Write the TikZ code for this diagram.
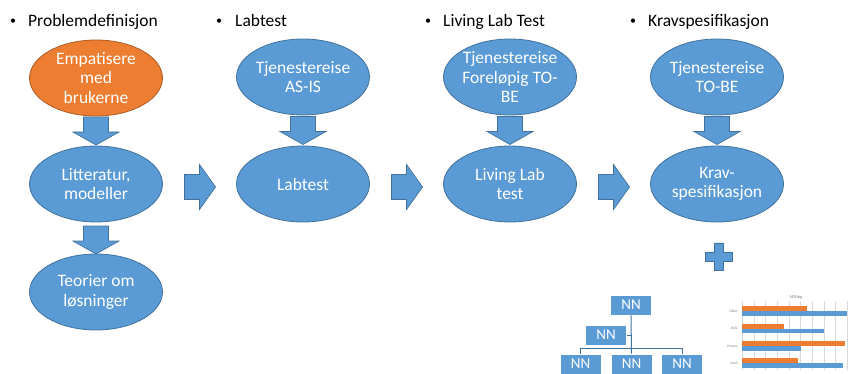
\documentclass[tikz,border=0pt]{standalone}
\usepackage{fontspec}
\setmainfont{Carlito}
\usetikzlibrary{shapes.geometric,calc}
\definecolor{fillblue}{HTML}{5B9BD5}
\definecolor{edgeblue}{HTML}{41719C}
\definecolor{fillorange}{HTML}{ED7D31}
\definecolor{edgeorange}{HTML}{AE5A21}
\definecolor{gridgray}{HTML}{D9D9D9}
\definecolor{labelgray}{HTML}{7F7F7F}
\begin{document}
\begin{tikzpicture}[x=1pt,y=-1pt,
  bubble/.style={ellipse, draw=edgeblue, line width=0.8pt, fill=fillblue,
    minimum width=133pt, minimum height=76pt, inner sep=0pt},
  hotbubble/.style={bubble, draw=edgeorange, fill=fillorange},
  bubbletext/.style={text=white, align=center, inner sep=0pt,
    font=\fontsize{17.5}{19.5}\selectfont},
  headtext/.style={text=black, inner sep=0pt, font=\fontsize{17.5}{20}\selectfont},
  headbullet/.style={text=black, inner sep=0pt, font=\fontsize{12}{12}\selectfont},
  blockarrow/.style={fill=fillblue, draw=edgeblue, line width=0.7pt, line join=miter},
  orgbox/.style={rectangle, fill=fillblue, draw=white, line width=0.7pt,
    minimum width=41pt, minimum height=20pt, inner sep=0pt, text=white,
    font=\fontsize{15}{15}\selectfont},
  orgline/.style={draw=edgeblue, line width=1pt},
  gridline/.style={draw=gridgray, line width=0.4pt},
  chartlabel/.style={text=labelgray, inner sep=0pt, font=\fontsize{3.5}{4}\selectfont},
  pics/downblock/.style={code={
    \path[blockarrow] (-12.5,-14) -- (12.5,-14) -- (12.5,1) -- (23,1) -- (0,14)
      -- (-23,1) -- (-12.5,1) -- cycle;}},
  pics/rightblock/.style={code={
    \path[blockarrow] (-15,-12.5) -- (0,-12.5) -- (0,-22.5) -- (16,0) -- (0,22.5)
      -- (0,12.5) -- (-15,12.5) -- cycle;}},
  pics/plusblock/.style={code={
    \path[blockarrow] (-4.5,-13.5) -- (4.5,-13.5) -- (4.5,-4.5) -- (13.5,-4.5)
      -- (13.5,4.5) -- (4.5,4.5) -- (4.5,13.5) -- (-4.5,13.5) -- (-4.5,4.5)
      -- (-13.5,4.5) -- (-13.5,-4.5) -- (-4.5,-4.5) -- cycle;}}
]
\useasboundingbox (0,0) rectangle (850,374);

% column headings
\node[headbullet, anchor=base] (b1) at (13,25) {•};
\node[headtext, anchor=base west] (h1) at (28,27) {Problemdefinisjon};
\node[headbullet, anchor=base] (b2) at (219,25) {•};
\node[headtext, anchor=base west] (h2) at (235,27) {Labtest};
\node[headbullet, anchor=base] (b3) at (428,25) {•};
\node[headtext, anchor=base west] (h3) at (443,27) {Living Lab Test};
\node[headbullet, anchor=base] (b4) at (633,25) {•};
\node[headtext, anchor=base west] (h4) at (648,27) {Kravspesifikasjon};

% column 1
\node[hotbubble] (e1) at (96,78) {};
\node[bubbletext] (t1) at (e1) {Empatisere\\med\\brukerne};
\node[bubble] (e2) at (96,184) {};
\node[bubbletext] (t2) at (e2) {Litteratur,\\modeller};
\node[bubble] (e3) at (96,292) {};
\node[bubbletext] (t3) at (e3) {Teorier om\\løsninger};

% column 2
\node[bubble] (e4) at (303,77) {};
\node[bubbletext] (t4) at (e4) {Tjenestereise\\AS-IS};
\node[bubble] (e5) at (303,184) {};
\node[bubbletext] (t5) at (e5) {Labtest};

% column 3
\node[bubble] (e6) at (510,77) {};
\node[bubbletext] (t6) at (e6) {Tjenestereise\\Foreløpig TO-\\BE};
\node[bubble] (e7) at (510,184) {};
\node[bubbletext] (t7) at (e7) {Living Lab\\test};

% column 4
\node[bubble] (e8) at (717,77) {};
\node[bubbletext] (t8) at (e8) {Tjenestereise\\TO-BE};
\node[bubble] (e9) at (717,184) {};
\node[bubbletext] (t9) at (e9) {Krav-\\spesifikasjon};

% block arrows down each column
\pic at ($(e1.south)!0.5!(e2.north)$) {downblock};
\pic at ($(e2.south)!0.5!(e3.north)+(0,2)$) {downblock};
\pic at ($(e4.south)!0.5!(e5.north)$) {downblock};
\pic at ($(e6.south)!0.5!(e7.north)$) {downblock};
\pic at ($(e8.south)!0.5!(e9.north)$) {downblock};

% block arrows between columns
\pic at ($(e2.east)!0.5!(e5.west)+(0,3)$) {rightblock};
\pic at ($(e5.east)!0.5!(e7.west)+(0,3)$) {rightblock};
\pic at ($(e7.east)!0.5!(e9.west)+(0,3)$) {rightblock};

% plus sign
\pic at ($(e9.south)+(2,34)$) {plusblock};

% organisation chart
\node[orgbox] (o1) at (631,305) {NN};
\node[orgbox] (o2) at (606,335) {NN};
\node[orgbox] (o3) at (580.5,364) {NN};
\node[orgbox] (o4) at (631.5,364) {NN};
\node[orgbox] (o5) at (682,364) {NN};
\draw[orgline] (o1.south) -- (o4.north);
\draw[orgline] (o2.east) -- (o2.east -| o1.south);
\draw[orgline] (o3.north) -- ++(0,-5) -| (o5.north);

% bar chart
\foreach \g in {0,...,9}
  \draw[gridline] (742+11.7*\g,301) -- (742+11.7*\g,370);
\node[chartlabel, font=\fontsize{4.5}{5}\selectfont] (ct) at (796,297) {Måling};
\fill[fillorange] (742,306) rectangle (807,311);
\fill[fillblue]   (742,311) rectangle (847,315.5);
\fill[fillorange] (742,323.5) rectangle (784,328.5);
\fill[fillblue]   (742,328.5) rectangle (824,333);
\fill[fillorange] (742,341) rectangle (845,346);
\fill[fillblue]   (742,346) rectangle (801,350.5);
\fill[fillorange] (742,358) rectangle (798,363);
\fill[fillblue]   (742,363) rectangle (843,367.5);
\node[chartlabel, anchor=east] (c1) at (738,311) {Sikker};
\node[chartlabel, anchor=east] (c2) at (738,328.5) {Rolle};
\node[chartlabel, anchor=east] (c3) at (738,346) {Prosess};
\node[chartlabel, anchor=east] (c4) at (738,363) {Verdi};
\end{tikzpicture}
\end{document}
